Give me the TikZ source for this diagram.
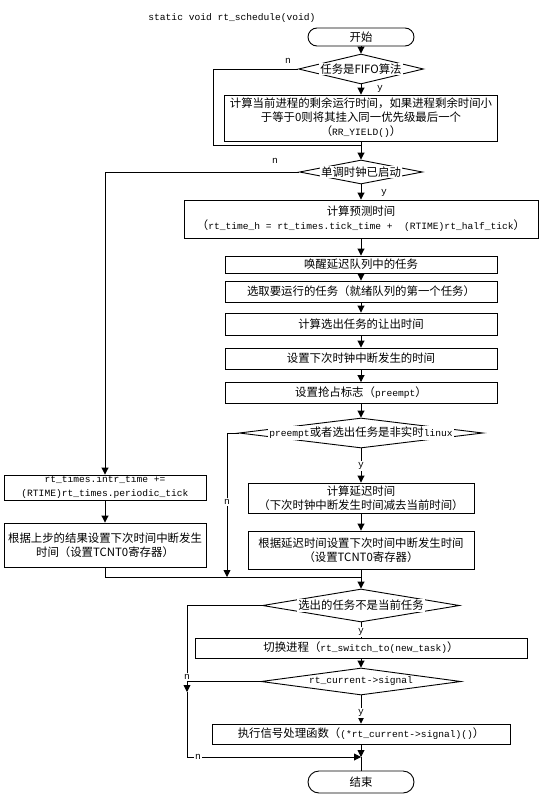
\documentclass[tikz,border=0pt]{standalone}
\usepackage{fontspec}
\setmainfont{Liberation Mono}
\newfontfamily\cjk{Noto Sans CJK SC}[Scale=1.1875]
\newcommand{\zh}[1]{{\cjk #1}}
\usetikzlibrary{shapes.geometric,arrows.meta}

\tikzset{
  box/.style={draw, rectangle, inner sep=1pt, align=center},
  term/.style={draw, rounded corners=9pt, minimum width=106pt, minimum height=18pt},
  dia/.style={draw, diamond, inner sep=0pt},
  lbl/.style={fill=white, inner sep=1pt},
}

\begin{document}
\begin{tikzpicture}[x=1pt, y=-1pt, line width=0.9pt,
    >={Triangle[length=7pt,width=7pt]}, font=\fontsize{9.6}{14}\selectfont]
\useasboundingbox (0,0) rectangle (540,795);
% title
\node[anchor=west, inner sep=0pt] (title) at (148,18) {static void rt\_schedule(void)};
% main column
\node[term] (s) at (361,37) {\zh{开始}};
\node[dia, minimum width=125pt, minimum height=30pt,
    label={[lbl]center:\zh{任务是FIFO算法}}] (d1) at (361,69) {};
\node[box, minimum width=273pt, minimum height=46pt] (b1) at (361,118)
    {\zh{计算当前进程的剩余运行时间，如果进程剩余时间小}\\
     \zh{于等于0则将其挂入同一优先级最后一个}\\
     \zh{（}RR\_YIELD()\zh{）}};
\node[dia, minimum width=123pt, minimum height=24pt,
    label={[lbl]center:\zh{单调时钟已启动}}] (d2) at (361,172) {};
\node[box, minimum width=354pt, minimum height=38pt] (b2) at (361,219)
    {\zh{计算预测时间}\\
     \zh{（}rt\_time\_h = rt\_times.tick\_time + ~(RTIME)rt\_half\_tick\zh{）}};
\node[box, minimum width=272pt, minimum height=17pt] (b3) at (361,264.5) {\zh{唤醒延迟队列中的任务}};
\node[box, minimum width=272pt, minimum height=21pt] (b4) at (361,291.5) {\zh{选取要运行的任务（就绪队列的第一个任务）}};
\node[box, minimum width=272pt, minimum height=22pt] (b5) at (361,324) {\zh{计算选出任务的让出时间}};
\node[box, minimum width=272pt, minimum height=21pt] (b6) at (361,358.5) {\zh{设置下次时钟中断发生的时间}};
\node[box, minimum width=272pt, minimum height=21pt] (b7) at (361,393) {\zh{设置抢占标志（}preempt\zh{）}};
\node[dia, minimum width=244pt, minimum height=30pt,
    label={[lbl]center:preempt\zh{或者选出任务是非实时}linux}] (d3) at (361,433) {};
% right branch
\node[box, minimum width=226pt, minimum height=30pt] (rb1) at (361,498)
    {\zh{计算延迟时间}\\ \zh{（下次时钟中断发生时间减去当前时间）}};
\node[box, minimum width=226pt, minimum height=38pt] (rb2) at (361,550)
    {\zh{根据延迟时间设置下次时间中断发生时间}\\ \zh{（设置TCNT0寄存器）}};
% left branch
\node[box, minimum width=202pt, minimum height=25pt] (lb1) at (105,487.5)
    {rt\_times.intr\_time +=\\ (RTIME)rt\_times.periodic\_tick};
\node[box, minimum width=202pt, minimum height=44pt] (lb2) at (105,545)
    {\zh{根据上步的结果设置下次时间中断发生}\\ \zh{时间（设置TCNT0寄存器）}};
% lower part
\node[dia, minimum width=197pt, minimum height=33pt,
    label={[lbl]center:\zh{选出的任务不是当前任务}}] (d4) at (361,605.5) {};
\node[box, minimum width=332pt, minimum height=20pt] (b8) at (361,648)
    {\zh{切换进程（}rt\_switch\_to(new\_task)\zh{）}};
\node[dia, minimum width=200pt, minimum height=27pt,
    label={[lbl]center:rt\_current->signal}] (d5) at (361,681.5) {};
\node[box, minimum width=298pt, minimum height=20pt] (b9) at (361,734)
    {\zh{执行信号处理函数（}(*rt\_current->signal)()\zh{）}};
\node[term, minimum height=22pt, rounded corners=11pt] (e) at (361,782) {\zh{结束}};
% bends and joins
\coordinate (c1) at (213,145);
\coordinate (j1) at (361,145);
\coordinate (c3) at (227,577);
\coordinate (j2) at (361,577);
\coordinate (c5) at (187,681.5);
\coordinate (c6) at (187,692);
\coordinate (j3) at (361,757);
% connectors
\draw[->] (s) -- (d1);
\draw[->] (d1) -- (b1);
\draw (d1.west) -| (c1) -- (j1);
\draw[->] (b1) -- (d2);
\draw[->] (d2) -- (b2);
\draw[->] (d2.west) -| (lb1.north);
\draw[->] (b2) -- (b3);
\draw[->] (b3) -- (b4);
\draw[->] (b4) -- (b5);
\draw[->] (b5) -- (b6);
\draw[->] (b6) -- (b7);
\draw[->] (b7) -- (d3);
\draw[->] (d3) -- (rb1);
\draw[->] (d3.west) -| (c3);
\draw[->] (rb1) -- (rb2);
\draw (rb2) -- (j2);
\draw[->] (lb1) -- (lb2);
\draw (lb2.south) |- (j2);
\draw[->] (j2) -- (d4);
\draw (d4) -- (b8);
\draw (d4.west) -| (c5);
\draw[->] (b8) -- (d5);
\draw (d5.west) -- (c5);
\draw[->] (c5) -- (c6);
\draw[->] (c6) |- (j3);
\draw[->] (d5) -- (b9);
\draw[->] (b9) -- (j3);
\draw (j3) -- (e);
% y / n marks
\node (n1) at (288,61) {n};
\node (y1) at (380,89) {y};
\node (n2) at (275,161) {n};
\node (y2) at (384,193) {y};
\node[lbl] (y3) at (361,466) {y};
\node[lbl] (n3) at (227,502) {n};
\node[lbl] (y4) at (361,632) {y};
\node[lbl] (n5) at (187,677) {n};
\node[lbl] (y5) at (361,713) {y};
\node[lbl] (n6) at (198,757) {n};
\end{tikzpicture}
\end{document}
